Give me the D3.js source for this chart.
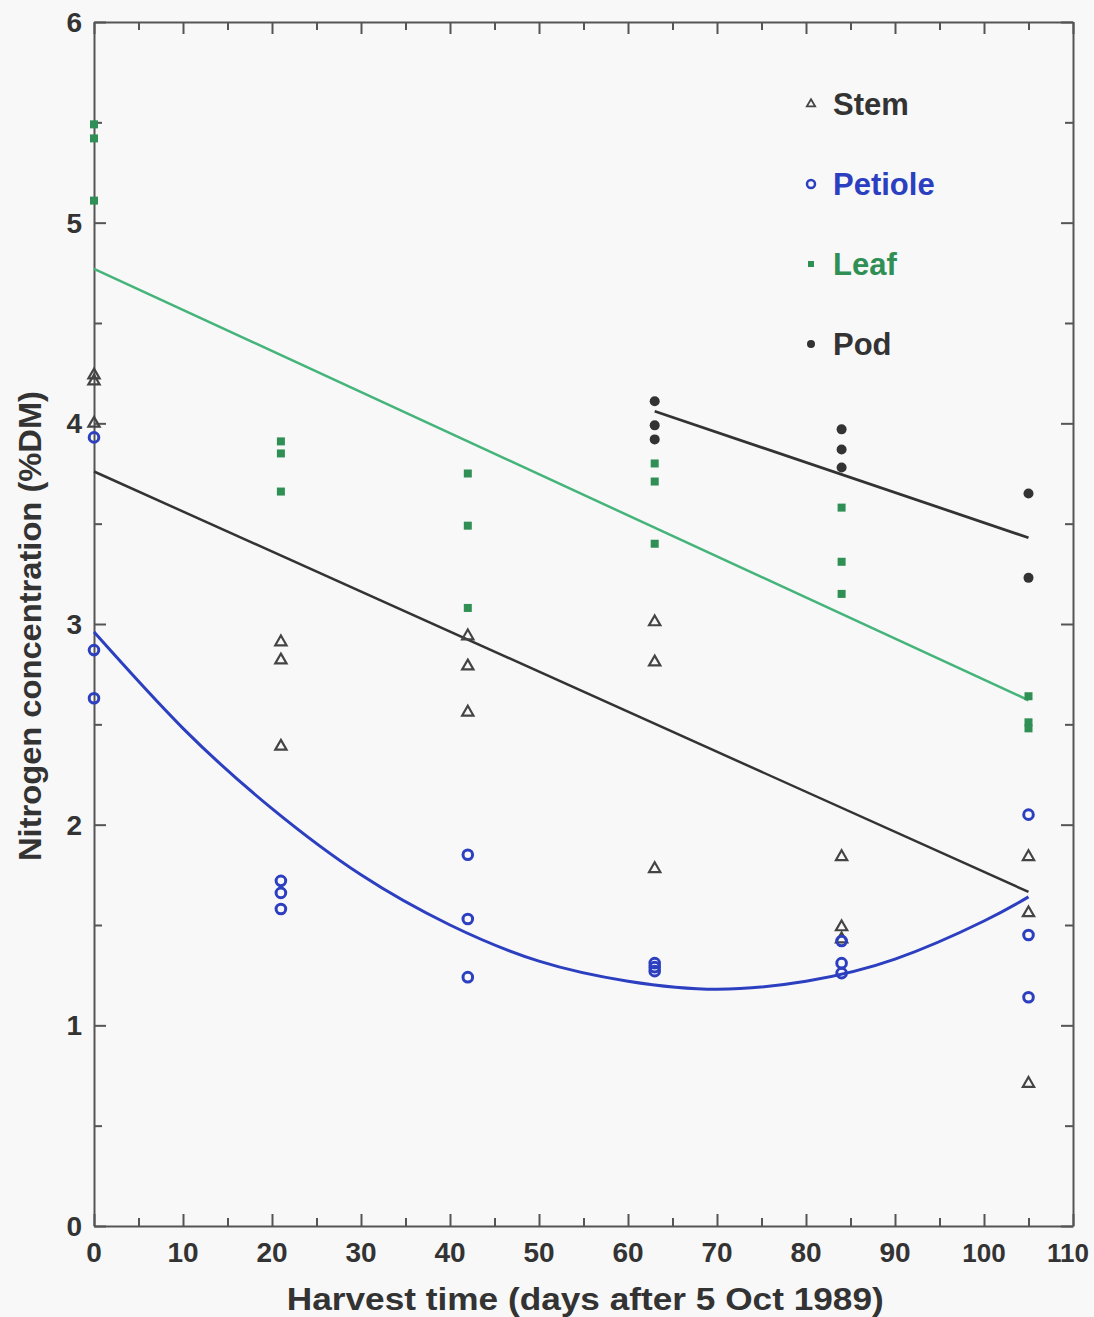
<!DOCTYPE html>
<html>
<head>
<meta charset="utf-8">
<script src="https://cdn.jsdelivr.net/npm/d3@7"></script>
<style>
  body { margin: 0; background: #f8f8f8; }
  text { font-family: "Liberation Sans", Arial, sans-serif; font-weight: bold; }
</style>
</head>
<body>
<div id="chart"></div>
<script>
// harvest days
var days = [0, 21, 42, 63, 84, 105];

var stem = [[4.24, 4.21, 4.0], [2.91, 2.82, 2.39], [2.94, 2.79, 2.56], [3.01, 2.81, 1.78], [1.84, 1.49, 1.43], [1.84, 1.56, 0.71]];
var petiole = [[3.93, 2.87, 2.63], [1.72, 1.66, 1.58], [1.85, 1.53, 1.24], [1.31, 1.27, 1.29], [1.42, 1.31, 1.26], [2.05, 1.45, 1.14]];
var leaf = [[5.49, 5.42, 5.11], [3.91, 3.85, 3.66], [3.75, 3.49, 3.08], [3.80, 3.71, 3.40], [3.58, 3.31, 3.15], [2.64, 2.51, 2.48]];
var podDays = [63, 84, 105];
var pod = [[4.11, 3.99, 3.92], [3.97, 3.87, 3.78], [3.65, 3.23]];

// fitted lines, end points
var leafFit = [[0, 4.77], [105, 2.62]];
var stemFit = [[0, 3.76], [105, 1.665]];
var podFit = [[63, 4.06], [105, 3.43]];
// fitted petiole curve, read at points along it
var petioleFit = [[0, 2.96], [10, 2.48], [20, 2.08], [30, 1.75], [40, 1.50], [50, 1.32], [60, 1.22], [70, 1.18], [80, 1.22], [90, 1.33], [100, 1.52], [105, 1.64]];

var xTicks = [0, 10, 20, 30, 40, 50, 60, 70, 80, 90, 100, 110];
var yTicks = [0, 1, 2, 3, 4, 5, 6];

var cBlack = "#333", cBlue = "#2b3fc0", cGreen = "#2f8f55", cGreenLine = "#45b47a";

var margin = { top: 22, right: 21, bottom: 91, left: 94 };
var width = 1094 - margin.left - margin.right;
var height = 1317 - margin.top - margin.bottom;

var svg = d3.select("#chart")
    .append("svg")
    .attr("width", 1094)
    .attr("height", 1317)
    .append("g")
    .attr("transform", "translate(" + margin.left + "," + margin.top + ")");

var x = d3.scaleLinear().domain([0, 110]).range([0, width]);
var y = d3.scaleLinear().domain([0, 6]).range([height, 0]);

// inward ticks on all four sides
var xMinor = d3.range(0, 111, 5);
var yMinor = d3.range(0, 6.01, 0.5);
function tickLen(v, step) { return Math.abs(v / step - Math.round(v / step)) < 1e-6 ? 12 : 8; }

svg.append("g")
    .attr("transform", "translate(0," + height + ")")
    .call(d3.axisBottom(x).tickValues(xMinor).tickSizeInner(0).tickSizeOuter(0).tickFormat(""))
    .call(g => g.selectAll(".tick line").attr("y2", d => -tickLen(d, 10)))
    .call(g => g.selectAll("line, path").attr("stroke", "#555").attr("stroke-width", 2));

svg.append("g")
    .call(d3.axisTop(x).tickValues(xMinor).tickSizeInner(0).tickSizeOuter(0).tickFormat(""))
    .call(g => g.selectAll(".tick line").attr("y2", d => tickLen(d, 10)))
    .call(g => g.selectAll("line, path").attr("stroke", "#555").attr("stroke-width", 2));

svg.append("g")
    .call(d3.axisLeft(y).tickValues(yMinor).tickSizeInner(0).tickSizeOuter(0).tickFormat(""))
    .call(g => g.selectAll(".tick line").attr("x2", d => tickLen(d, 1)))
    .call(g => g.selectAll("line, path").attr("stroke", "#555").attr("stroke-width", 2));

svg.append("g")
    .attr("transform", "translate(" + width + ",0)")
    .call(d3.axisRight(y).tickValues(yMinor).tickSizeInner(0).tickSizeOuter(0).tickFormat(""))
    .call(g => g.selectAll(".tick line").attr("x2", d => -tickLen(d, 1)))
    .call(g => g.selectAll("line, path").attr("stroke", "#555").attr("stroke-width", 2));

// tick labels
svg.selectAll(".xlab")
    .data(xTicks)
    .enter().append("text")
    .attr("x", d => d >= 110 ? x(d) + 16 : x(d))
    .attr("y", height + 36)
    .attr("text-anchor", d => d >= 110 ? "end" : "middle")
    .attr("font-size", d => d >= 100 ? 26 : 28)
    .attr("fill", cBlack)
    .text(d => d);

svg.selectAll(".ylab")
    .data(yTicks)
    .enter().append("text")
    .attr("x", -12)
    .attr("y", d => y(d) + 10)
    .attr("text-anchor", "end")
    .attr("font-size", 28)
    .attr("fill", cBlack)
    .text(d => d);

// axis titles
svg.append("text")
    .attr("x", x(55.2))
    .attr("y", height + 84)
    .attr("text-anchor", "middle")
    .attr("font-size", 31)
    .attr("textLength", 597)
    .attr("lengthAdjust", "spacingAndGlyphs")
    .attr("fill", cBlack)
    .text("Harvest time (days after 5 Oct 1989)");

svg.append("text")
    .attr("transform", "translate(-53," + y(2.99) + ") rotate(-90)")
    .attr("text-anchor", "middle")
    .attr("font-size", 31)
    .attr("textLength", 470)
    .attr("lengthAdjust", "spacingAndGlyphs")
    .attr("fill", cBlack)
    .text("Nitrogen concentration (%DM)");

// fitted lines
var line = d3.line().x(d => x(d[0])).y(d => y(d[1]));
svg.append("path").attr("d", line(leafFit)).attr("fill", "none").attr("stroke", cGreenLine).attr("stroke-width", 2.5);
svg.append("path").attr("d", line(stemFit)).attr("fill", "none").attr("stroke", cBlack).attr("stroke-width", 2.5);
svg.append("path").attr("d", line(podFit)).attr("fill", "none").attr("stroke", cBlack).attr("stroke-width", 2.8);
svg.append("path").attr("d", line.curve(d3.curveNatural)(petioleFit)).attr("fill", "none").attr("stroke", cBlue).attr("stroke-width", 3);

function flatten(xs, vals) {
  var out = [];
  xs.forEach((d, i) => vals[i].forEach(v => out.push([d, v])));
  return out;
}

var tri = d3.symbol().type(d3.symbolTriangle).size(55);

// markers
svg.selectAll(".leaf")
    .data(flatten(days, leaf))
    .enter().append("rect")
    .attr("x", d => x(d[0]) - 4)
    .attr("y", d => y(d[1]) - 4)
    .attr("width", 8).attr("height", 8)
    .attr("fill", cGreen);

svg.selectAll(".stem")
    .data(flatten(days, stem))
    .enter().append("path")
    .attr("d", tri)
    .attr("transform", d => "translate(" + x(d[0]) + "," + y(d[1]) + ")")
    .attr("fill", "none")
    .attr("stroke", "#444")
    .attr("stroke-width", 2.2);

svg.selectAll(".pet")
    .data(flatten(days, petiole))
    .enter().append("circle")
    .attr("cx", d => x(d[0]))
    .attr("cy", d => y(d[1]))
    .attr("r", 4.8)
    .attr("fill", "none")
    .attr("stroke", cBlue)
    .attr("stroke-width", 3);

svg.selectAll(".pod")
    .data(flatten(podDays, pod))
    .enter().append("circle")
    .attr("cx", d => x(d[0]))
    .attr("cy", d => y(d[1]))
    .attr("r", 5)
    .attr("fill", cBlack);

// legend
var legend = [
  { name: "Stem", color: cBlack, mark: "tri" },
  { name: "Petiole", color: cBlue, mark: "ring" },
  { name: "Leaf", color: cGreen, mark: "sq" },
  { name: "Pod", color: cBlack, mark: "dot" }
];
var lg = svg.selectAll(".lg")
    .data(legend)
    .enter().append("g")
    .attr("transform", (d, i) => "translate(717," + (82 + i * 80) + ")");

lg.each(function(d) {
  var g = d3.select(this);
  if (d.mark == "tri") g.append("path").attr("d", d3.symbol().type(d3.symbolTriangle).size(30)).attr("fill", "none").attr("stroke", "#444").attr("stroke-width", 1.8);
  if (d.mark == "ring") g.append("circle").attr("r", 4).attr("fill", "none").attr("stroke", cBlue).attr("stroke-width", 2.5);
  if (d.mark == "sq") g.append("rect").attr("x", -3).attr("y", -3).attr("width", 6).attr("height", 6).attr("fill", cGreen);
  if (d.mark == "dot") g.append("circle").attr("r", 4).attr("fill", cBlack);
});

lg.append("text")
    .attr("x", 22)
    .attr("y", 11)
    .attr("font-size", 31)
    .attr("fill", d => d.color)
    .text(d => d.name);
</script>
</body>
</html>
